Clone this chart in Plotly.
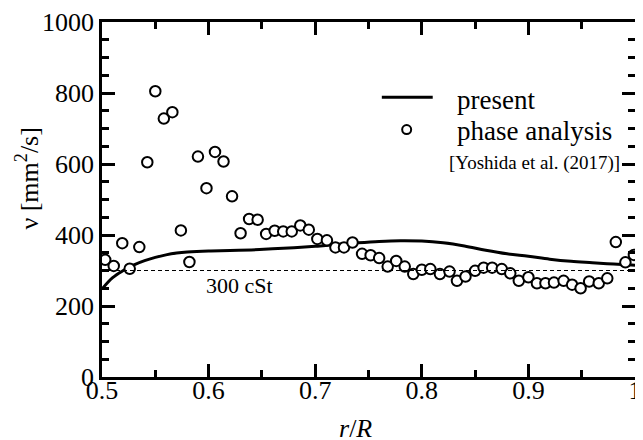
import plotly.graph_objects as go

# ---- data ----
phase_r = [0.503, 0.511, 0.519, 0.526, 0.535, 0.5425, 0.550, 0.558, 0.566, 0.574,
           0.582, 0.590, 0.598, 0.606, 0.614, 0.622, 0.630, 0.638, 0.646, 0.654,
           0.662, 0.670, 0.678, 0.686, 0.694, 0.702, 0.711, 0.719, 0.727, 0.735,
           0.744, 0.752, 0.760, 0.768, 0.776, 0.784, 0.792, 0.800, 0.808, 0.817,
           0.826, 0.833, 0.841, 0.850, 0.858, 0.866, 0.875, 0.883, 0.891, 0.900,
           0.908, 0.916, 0.924, 0.933, 0.941, 0.949, 0.957, 0.966, 0.974, 0.982,
           0.991, 0.999]
phase_v = [330, 313, 377, 305, 366, 605, 805, 728, 746, 413,
           324, 621, 532, 634, 607, 509, 405, 445, 443, 403,
           412, 410, 410, 427, 415, 389, 385, 365, 365, 379,
           347, 343, 335, 311, 327, 311, 290, 302, 304, 290,
           297, 271, 283, 299, 308, 308, 304, 292, 271, 281,
           264, 264, 266, 271, 260, 250, 269, 264, 278, 380,
           323, 344]

present_r = [0.50, 0.51, 0.52, 0.53, 0.54, 0.55, 0.56, 0.57, 0.58, 0.60,
             0.62, 0.64, 0.66, 0.68, 0.70, 0.72, 0.74, 0.76, 0.78, 0.80,
             0.82, 0.84, 0.86, 0.88, 0.90, 0.92, 0.94, 0.96, 0.98, 1.00]
present_v = [248, 280, 300, 316, 328, 337, 344, 349, 352, 355,
             356, 358, 361, 364, 368, 373, 378, 382, 384, 383,
             378, 369, 357, 347, 340, 332, 326, 322, 318, 315]

ref_viscosity = 300
ref_label = "300 cSt"

x_tickvals = [0.5, 0.6, 0.7, 0.8, 0.9, 1.0]
x_ticktext = ["0.5", "0.6", "0.7", "0.8", "0.9", "1"]
y_tickvals = [0, 200, 400, 600, 800, 1000]
y_ticktext = ["0", "200", "400", "600", "800", "1000"]

legend_labels = ["present", "phase analysis"]
citation = "[Yoshida et al. (2017)]"
x_title = "<i>r</i>/<i>R</i>"
y_title = "ν [mm<sup>2</sup>/s]"

FONT = "Liberation Serif"

fig = go.Figure()

fig.add_hline(y=ref_viscosity, line=dict(color="black", width=1, dash="4px,3px"))

fig.add_trace(go.Scatter(
    x=present_r, y=present_v, mode="lines", name=legend_labels[0],
    line=dict(color="black", width=3, shape="spline", smoothing=1.0),
    showlegend=False,
))
fig.add_trace(go.Scatter(
    x=phase_r, y=phase_v, mode="markers", name=legend_labels[1],
    marker=dict(symbol="circle", size=10.5, color="white",
                line=dict(color="black", width=2)),
    showlegend=False, cliponaxis=False,
))

# reference-line label
fig.add_annotation(x=0.629, y=257, xref="x", yref="y", text=ref_label,
                   showarrow=False, font=dict(family=FONT, size=22, color="black"))

# hand-drawn legend (paper coordinates)
fig.add_shape(type="line", xref="paper", yref="paper",
              x0=0.525, x1=0.6205, y0=0.788, y1=0.788,
              line=dict(color="black", width=3))
fig.add_shape(type="circle", xref="paper", yref="paper",
              xsizemode="pixel", ysizemode="pixel",
              xanchor=0.5716, yanchor=0.697, x0=-4.5, x1=4.5, y0=-4.5, y1=4.5,
              line=dict(color="black", width=2), fillcolor="white")
fig.add_annotation(x=0.662, y=0.781, xref="paper", yref="paper", text=legend_labels[0],
                   xanchor="left", yanchor="middle", showarrow=False,
                   font=dict(family=FONT, size=27, color="black"))
fig.add_annotation(x=0.662, y=0.694, xref="paper", yref="paper", text=legend_labels[1],
                   xanchor="left", yanchor="middle", showarrow=False,
                   font=dict(family=FONT, size=27, color="black"))
fig.add_annotation(x=0.647, y=0.604, xref="paper", yref="paper", text=citation,
                   xanchor="left", yanchor="middle", showarrow=False,
                   font=dict(family=FONT, size=19, color="black"))

# axis titles as annotations for exact placement
fig.add_annotation(x=0.4756, y=-0.145, xref="paper", yref="paper", text=x_title,
                   xanchor="center", yanchor="middle", showarrow=False,
                   font=dict(family=FONT, size=26, color="black"))
fig.add_annotation(x=-0.14, y=0.56, xref="paper", yref="paper", text=y_title,
                   textangle=-90, xanchor="center", yanchor="middle", showarrow=False,
                   font=dict(family=FONT, size=26, color="black"))

axis_common = dict(
    showgrid=False, zeroline=False, showline=True, linecolor="black", linewidth=2.5,
    mirror="ticks", ticks="inside", ticklen=13, tickwidth=2.5, tickcolor="black",
    tickfont=dict(family=FONT, size=26, color="black"), automargin=False,
)

fig.update_xaxes(
    range=[0.5, 1.0], tickvals=x_tickvals, ticktext=x_ticktext,
    ticklabelstandoff=-12,
    minor=dict(ticks="inside", ticklen=7, dtick=0.05, tickwidth=2.5, tickcolor="black", showgrid=False),
    **axis_common,
)
fig.update_yaxes(
    range=[0, 1000], tickvals=y_tickvals, ticktext=y_ticktext,
    minor=dict(ticks="inside", ticklen=7, dtick=50, tickwidth=2.5, tickcolor="black", showgrid=False),
    **axis_common,
)

# the page puts the figure 8 px in from the top-left corner; margins compensate
fig.update_layout(
    width=643, height=440,
    margin=dict(l=94, r=16, t=14, b=71),
    plot_bgcolor="white", paper_bgcolor="white",
    showlegend=False,
    font=dict(family=FONT, color="black"),
)

fig.write_html("out.html")
